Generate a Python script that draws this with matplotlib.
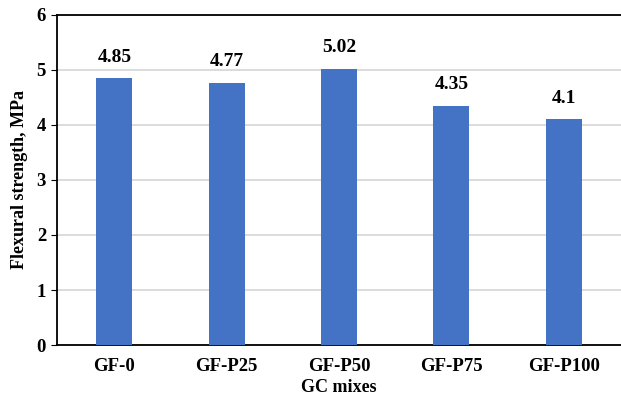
import matplotlib
matplotlib.use("Agg")
import matplotlib.pyplot as plt

mixes = ["GF-0", "GF-P25", "GF-P50", "GF-P75", "GF-P100"]
strength = [4.85, 4.77, 5.02, 4.35, 4.1]
labels = ["4.85", "4.77", "5.02", "4.35", "4.1"]

plt.rcParams['font.family'] = ['Liberation Serif', 'DejaVu Serif']
plt.rcParams['font.weight'] = 'bold'

fig = plt.figure(figsize=(6.21, 4.04), dpi=100)
ax = fig.add_axes([0.092, 0.146, 0.908, 0.817])

x = range(len(mixes))
bars = ax.bar(x, strength, width=0.32, color="#4472C4", zorder=3)
for b, t in zip(bars, labels):
    ax.text(b.get_x() + b.get_width() / 2, b.get_height() + 0.38, t,
            ha="center", va="center", fontsize=14, fontweight="bold")

ax.set_xlim(-0.51, 4.51)
ax.set_ylim(0, 6)
ax.set_yticks(range(0, 7))
ax.set_xticks(list(x))
ax.set_xticklabels(mixes)
ax.tick_params(axis="both", labelsize=13.5, length=0)
ax.tick_params(axis="y", length=4, direction="out", pad=4)
ax.tick_params(axis="x", pad=9)
ax.yaxis.grid(True, color="#d6d6d6", linewidth=1.2, zorder=0)

ax.spines["right"].set_visible(False)
for s in ("left", "top", "bottom"):
    ax.spines[s].set_linewidth(1.3)
    ax.spines[s].set_color("black")

ax.set_ylabel("Flexural strength, MPa", fontsize=13, fontweight="bold", labelpad=6)
ax.set_xlabel("GC mixes", fontsize=13, fontweight="bold", labelpad=3)

fig.savefig("out.png", dpi=100)
